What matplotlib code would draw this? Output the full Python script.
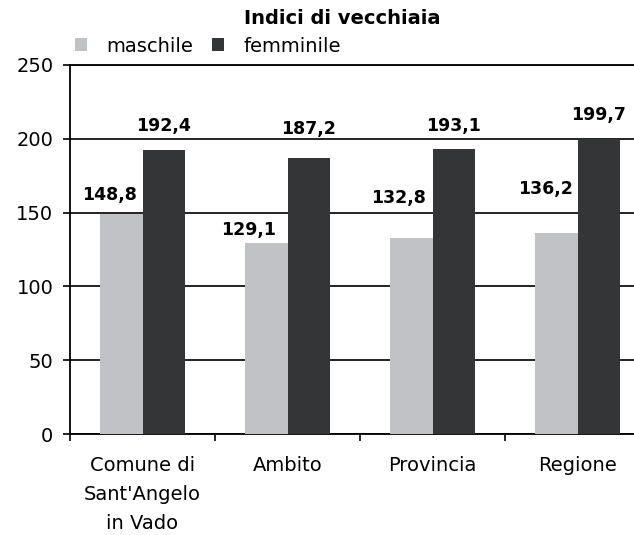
import numpy as np
import matplotlib.pyplot as plt

# Data
categorie = ["Comune di\nSant'Angelo\nin Vado", "Ambito", "Provincia", "Regione"]
maschile = [148.8, 129.1, 132.8, 136.2]
femminile = [192.4, 187.2, 193.1, 199.7]

# label offsets in pixels (dx, dy above bar top, to text centre)
off_m = [(-12, 19), (-18, 13), (-13, 40), (-11, 44)]
off_f = [(0, 24), (0, 29), (0, 23), (0, 24)]

plt.rcParams['font.family'] = ['DejaVu Sans']

fig = plt.figure(figsize=(6.34, 5.35), dpi=100)
ax = fig.add_axes([70 / 634, 1 - 434 / 535, 580 / 634, 369 / 535])

x = np.arange(len(categorie))
w = 0.29
col_m = "#c0c2c5"
col_f = "#343537"

ax.bar(x - w / 2, maschile, w, color=col_m, label="maschile", zorder=3)
ax.bar(x + w / 2, femminile, w, color=col_f, label="femminile", zorder=3)

for i in range(len(x)):
    ax.annotate(f"{maschile[i]:.1f}".replace(".", ","), (x[i] - w / 2, maschile[i]),
                xytext=off_m[i], textcoords="offset pixels", ha="center", va="center",
                fontsize=12.5, fontweight="bold")
    ax.annotate(f"{femminile[i]:.1f}".replace(".", ","), (x[i] + w / 2, femminile[i]),
                xytext=off_f[i], textcoords="offset pixels", ha="center", va="center",
                fontsize=12.5, fontweight="bold")

ax.set_xlim(-0.5, 3.5)
ax.set_ylim(0, 250)
ax.set_yticks(range(0, 251, 50))
ax.tick_params(axis="y", labelsize=14, length=5, width=1.2, pad=7)
ax.yaxis.grid(True, color="#111111", linewidth=1.3, zorder=0)

ax.set_xticks(np.arange(-0.5, 3.6, 1.0))
ax.set_xticklabels([])
ax.tick_params(axis="x", which="major", length=5, width=1.2)
ax.set_xticks(x, minor=True)
ax.set_xticklabels(categorie, minor=True, fontsize=14, linespacing=1.65)
ax.tick_params(axis="x", which="minor", length=0, pad=16)

for s in ax.spines.values():
    s.set_linewidth(1.3)

fig.text(342 / 634, 1 - 18 / 535, "Indici di vecchiaia", ha="center", va="center",
         fontsize=14, fontweight="bold")
ax.legend(loc="center left", bbox_to_anchor=(75 / 634, 1 - 46 / 535),
          bbox_transform=fig.transFigure, ncol=2, frameon=False, fontsize=14,
          borderpad=0, borderaxespad=0, handlelength=0.62, handleheight=0.62,
          columnspacing=0.95, handletextpad=1.0)

fig.savefig("out.png", dpi=100)
